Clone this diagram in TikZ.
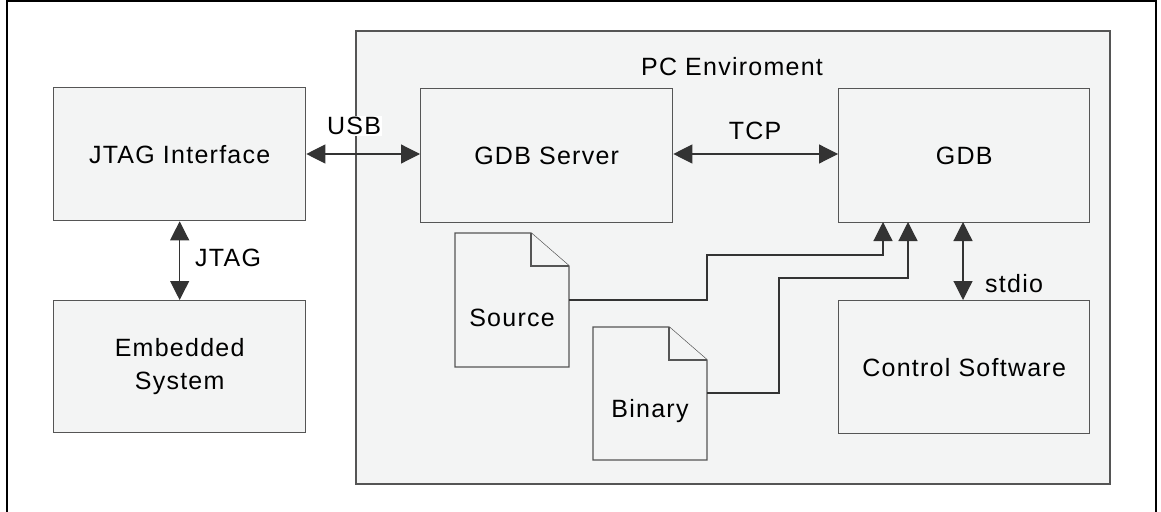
\documentclass[tikz,border=0pt]{standalone}
\usepackage{fontspec}
\setmainfont{Liberation Sans}[LetterSpace=5]
\usetikzlibrary{arrows.meta}
\definecolor{boxfill}{HTML}{F3F4F4}
\definecolor{boxline}{HTML}{555555}
\definecolor{wireline}{HTML}{333333}
\tikzset{
  blk/.style={draw=boxline, line width=1.3pt, fill=boxfill, inner sep=0pt,
              anchor=north west, align=center},
  lbl/.style={inner sep=1pt, text=black},
  wire/.style={draw=wireline, line width=1.2pt},
  tip/.style={-{Triangle[length=19pt,width=19pt]}},
  tips/.style={{Triangle[length=19pt,width=19pt]}-{Triangle[length=19pt,width=19pt]}},
  docfill/.style={draw=boxline, line width=1.3pt, fill=boxfill},
}
\begin{document}
\begin{tikzpicture}[x=1pt, y=-1pt, font=\fontsize{25}{30}\selectfont]
\useasboundingbox (0,0) rectangle (1161,511);
% outer frame (open at the bottom)
\draw[black, line width=2pt] (7,520) -- (7,1.5) -- (1156,1.5) -- (1156,520);

% PC environment container
\node[blk, minimum width=754pt, minimum height=453pt, line width=1.6pt] (pc) at (355,30) {};
\node[lbl] (pclbl) at (732,67) {PC Enviroment};

% left-side blocks
\node[blk, minimum width=252pt, minimum height=133pt] (jtag) at (53,87) {JTAG Interface};
\node[blk, minimum width=252pt, minimum height=132pt] (emb) at (53,300) {Embedded\\[3pt]System};

% blocks inside the PC
\node[blk, minimum width=252pt, minimum height=134pt] (srv) at (420,88) {GDB Server};
\node[blk, minimum width=251pt, minimum height=134pt] (gdb) at (838,88) {GDB};
\node[blk, minimum width=251pt, minimum height=133pt] (ctl) at (838,300) {Control Software};

% document symbols
\draw[docfill] (455,233) -- (531,233) -- (569,266) -- (569,367) -- (455,367) -- cycle;
\draw[docfill] (531,233) -- (531,266) -- (569,266);
\node[lbl] (srctxt) at (512,318) {Source};
\coordinate (srcR) at (569,300);

\draw[docfill] (593,327) -- (669,327) -- (707,360) -- (707,460) -- (593,460) -- cycle;
\draw[docfill] (669,327) -- (669,360) -- (707,360);
\node[lbl] (bintxt) at (650,411) {Binary};
\coordinate (binR) at (707,393);

% connectors
\draw[wire, tips] (jtag.east |- 0,154) -- (srv.west |- 0,154);
\node[lbl, fill=white] (usb) at (354,126) {USB};

\draw[wire, tips] (srv.east |- 0,154) -- (gdb.west |- 0,154);
\node[lbl] (tcp) at (755,131) {TCP};

\draw[wire, tips] (jtag.south) -- (emb.north);
\node[lbl, anchor=west] (jtaglbl) at (194,258) {JTAG};

\coordinate (gdbS) at (963,222);
\draw[wire, tips] (gdbS) -- (ctl.north -| gdbS);
\node[lbl, anchor=west] (stdio) at (984,284) {stdio};

\coordinate (inA) at (883,222);
\coordinate (inB) at (908,222);
\draw[wire, tip] (srcR) -- (707,300) -- (707,255) -| (inA);
\draw[wire, tip] (binR) -- (779,393) -- (779,278) -| (inB);
\end{tikzpicture}
\end{document}
